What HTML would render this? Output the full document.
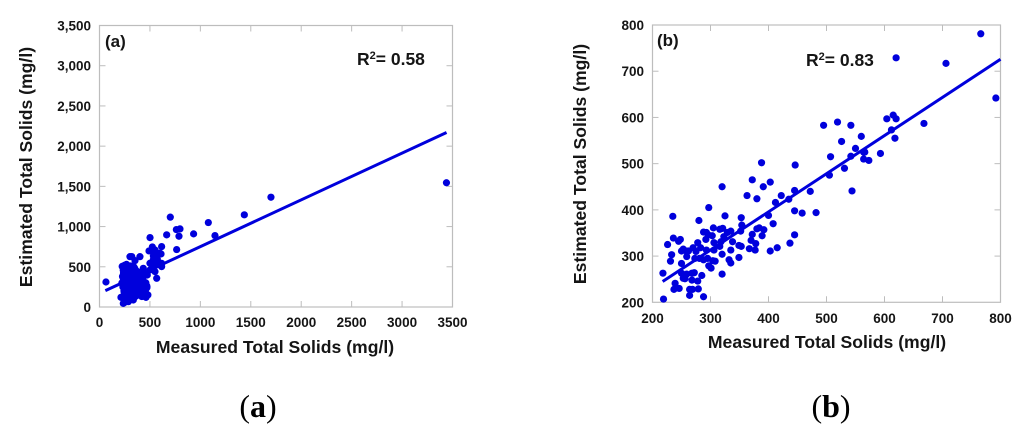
<!DOCTYPE html>
<html lang="en">
<head>
<meta charset="utf-8">
<title>Estimated vs Measured Total Solids</title>
<style>
html,body{margin:0;padding:0;background:#fff;width:1024px;height:435px;overflow:hidden}
svg{display:block;font-family:"Liberation Sans",Arial,sans-serif}
text{font-weight:bold;fill:#151515}
</style>
</head>
<body>
<svg id="figure" width="1024" height="435" viewBox="0 0 1024 435" xmlns="http://www.w3.org/2000/svg">
  <g id="panel-a"></g>
  <g id="panel-b"></g>
  <text x="258" y="417" text-anchor="middle" style="font-family:'Liberation Serif',serif;font-size:32px;fill:#000"><tspan style="font-weight:normal">(</tspan>a<tspan style="font-weight:normal">)</tspan></text>
  <text x="831" y="417" text-anchor="middle" style="font-family:'Liberation Serif',serif;font-size:32px;fill:#000"><tspan style="font-weight:normal">(</tspan>b<tspan style="font-weight:normal">)</tspan></text>
</svg>
<script>
const aMeasured = [64,702,1436,1079,933,1145,762,798,788,666,501,765,616,524,491,567,610,302,320,401,352,567,550,616,573,534,500,534,567,600,434,474,253,213,451,1700,3440,
  225,232,238,245,250,255,258,262,265,268,270,272,275,278,280,283,285,288,290,292,295,298,300,303,305,308,310,312,315,318,320,323,325,328,330,333,335,338,340,345,350,355,360,365,370,375,380,385,390,395,400,410,420,430,440,450,460,470,480,240,260,275,300,320,345,370,395,425,250,280,310,340,375,410,455,235,270,295,330,360,440,
  222,228,235,242,250,262,270,280,292,305,318,330,345,358,372,385,398,412,425,440,455,466,300,315,340,360,380,400,420,350,330,310,290,275,260,255,250,245,240,470,430,405,
  517,550,600,533,616,500,550,236,286,335,434,461];
const aEstimated = [311,1117,1146,1050,909,888,963,971,880,897,863,714,751,747,697,677,660,626,627,626,577,357,440,502,594,635,544,523,523,544,481,398,60,120,137,1365,1545,
  505,250,420,180,520,310,470,130,360,530,210,440,90,300,490,170,400,250,110,470,340,195,510,280,150,420,230,360,480,130,300,200,445,260,390,160,340,230,500,285,190,410,135,350,250,440,180,310,220,390,150,275,340,210,420,165,300,240,150,330,470,260,410,190,350,145,290,230,180,380,120,320,440,240,200,360,150,400,280,170,410,
  300,380,460,200,250,330,410,490,360,440,280,200,350,420,270,190,320,400,240,310,280,150,120,160,110,140,230,170,130,480,470,510,220,150,100,440,380,150,340,260,350,270,
  709,709,668,585,543,460,523,45,66,87,170,120];

const bMeasured = [219,218,231,233,226,236,245,248,235,280,297,320,372,403,391,363,380,422,412,435,445,472,505,445,458,482,400,408,353,325,305,316,321,288,293,296,303,292,354,352,335,329,323,380,384,392,372,389,370,378,445,437,415,403,377,367,353,349,338,318,306,316,278,270,283,275,253,250,258,262,259,293,306,335,320,273,281,288,295,304,308,332,335,349,250,297,301,285,320,250,259,268,272,253,256,268,278,239,237,246,264,269,279,264,288,
  766,620,706,792,495,519,542,604,615,620,668,612,560,618,526,550,507,542,564,566,564,573,593,531,446,388,544];
const bEstimated = [207,263,289,303,325,339,332,336,386,377,405,450,465,460,450,431,424,431,416,423,442,440,475,398,393,394,388,370,383,387,361,358,360,352,351,346,344,336,367,354,354,351,342,359,361,357,347,344,334,327,346,328,318,311,313,316,321,323,331,331,329,321,329,318,318,310,315,311,311,311,299,313,313,313,304,295,295,292,295,290,289,292,285,297,284,279,274,258,261,263,261,263,264,252,251,248,246,241,228,230,228,228,229,215,212,
  781,729,717,642,583,590,583,597,605,597,587,573,559,555,548,533,515,516,525,525,510,507,522,490,497,502,441];

const aXTicks = [0,500,1000,1500,2000,2500,3000,3500];
const aYTicks = [0,500,1000,1500,2000,2500,3000,3500];
const aXLabels = ["0","500","1000","1500","2000","2500","3000","3500"];
const aYLabels = ["0","500","1,000","1,500","2,000","2,500","3,000","3,500"];
const aFitX = [58,3441];
const aFitY = [203,2170];

const bXTicks = [200,300,400,500,600,700,800];
const bYTicks = [200,300,400,500,600,700,800];
const bXLabels = ["200","300","400","500","600","700","800"];
const bYLabels = ["200","300","400","500","600","700","800"];
const bFitX = [217.5,800];
const bFitY = [245,726];

const NS = "http://www.w3.org/2000/svg";

function make(parent, tag, attrs, text) {
  const el = document.createElementNS(NS, tag);
  for (const k in attrs) el.setAttribute(k, attrs[k]);
  if (text !== undefined) el.textContent = text;
  parent.appendChild(el);
  return el;
}

function drawPanel(id, cfg) {
  const g = document.getElementById(id);
  const sx = v => cfg.left + (v - cfg.xMin) / (cfg.xMax - cfg.xMin) * (cfg.right - cfg.left);
  const sy = v => cfg.bottom - (v - cfg.yMin) / (cfg.yMax - cfg.yMin) * (cfg.bottom - cfg.top);

  const frame = make(g, "rect", {x: cfg.left, y: cfg.top, width: cfg.right - cfg.left, height: cfg.bottom - cfg.top, fill: "none", stroke: "#bdbdbd", "stroke-width": 1.2});
  
  

  cfg.xTicks.forEach((t, i) => {
    const x = sx(t);
    if (i > 0 && i < cfg.xTicks.length - 1) {
      const b = make(g, "line", {x1: x, x2: x, y1: cfg.bottom, y2: cfg.bottom - 6, stroke: "#bdbdbd", "stroke-width": 1});
      
      
      const tp = make(g, "line", {x1: x, x2: x, y1: cfg.top, y2: cfg.top + 6, stroke: "#bdbdbd", "stroke-width": 1});
      
      
    }
    const lab = make(g, "text", {x: x, y: cfg.xLabelY, "text-anchor": "middle", "font-size": 13.5}, cfg.xLabels[i]);
    
    
  });

  cfg.yTicks.forEach((t, i) => {
    const y = sy(t);
    if (i > 0 && i < cfg.yTicks.length - 1) {
      const l = make(g, "line", {x1: cfg.left, x2: cfg.left + 6, y1: y, y2: y, stroke: "#bdbdbd", "stroke-width": 1});
      
      
      const r = make(g, "line", {x1: cfg.right, x2: cfg.right - 6, y1: y, y2: y, stroke: "#bdbdbd", "stroke-width": 1});
      
      
    }
    const lab = make(g, "text", {x: cfg.yLabelX, y: y + 5, "text-anchor": "end", "font-size": 13.5}, cfg.yLabels[i]);
    
    
  });

  cfg.xs.forEach((v, i) => {
    const c = make(g, "circle", {cx: sx(v), cy: sy(cfg.ys[i]), r: 3.6, fill: "#0000dc"});
    
    
  });

  const fit = make(g, "line", {x1: sx(cfg.fitX[0]), y1: sy(cfg.fitY[0]), x2: sx(cfg.fitX[1]), y2: sy(cfg.fitY[1]), stroke: "#0000dc", "stroke-width": 3});
  
  

  const xt = make(g, "text", {x: cfg.xTitleX, y: cfg.xTitleY, "text-anchor": "middle", "font-size": 17.6}, "Measured Total Solids (mg/l)");
  
  

  const yt = make(g, "text", {x: 0, y: 0, "text-anchor": "middle", "font-size": 17.6, transform: "translate(" + cfg.yTitleX + "," + cfg.yTitleY + ") rotate(-90)"}, "Estimated Total Solids (mg/l)");
  
  

  const tag = make(g, "text", {x: cfg.tagX, y: cfg.tagY, "font-size": 17}, cfg.tag);
  
  

  const r2 = make(g, "text", {x: cfg.r2X, y: cfg.r2Y, "font-size": 17.5});
  
  
  make(r2, "tspan", {}, "R");
  make(r2, "tspan", {"font-size": 11, dy: -6}, "2");
  make(r2, "tspan", {dy: 6}, "= " + cfg.r2);
}

drawPanel("panel-a", {
  left: 99.5, right: 452.5, top: 25.5, bottom: 307,
  xMin: 0, xMax: 3500, yMin: 0, yMax: 3500,
  xs: aMeasured, ys: aEstimated, fitX: aFitX, fitY: aFitY,
  xTicks: aXTicks, yTicks: aYTicks, xLabels: aXLabels, yLabels: aYLabels,
  xLabelY: 327, yLabelX: 91,
  xTitleX: 275, xTitleY: 353, yTitleX: 32, yTitleY: 167,
  tag: "(a)", tagX: 105, tagY: 47, r2: "0.58", r2X: 357, r2Y: 65
});

drawPanel("panel-b", {
  left: 652.5, right: 1000.5, top: 25, bottom: 302.3,
  xMin: 200, xMax: 800, yMin: 200, yMax: 800,
  xs: bMeasured, ys: bEstimated, fitX: bFitX, fitY: bFitY,
  xTicks: bXTicks, yTicks: bYTicks, xLabels: bXLabels, yLabels: bYLabels,
  xLabelY: 323, yLabelX: 644,
  xTitleX: 827, xTitleY: 348, yTitleX: 586, yTitleY: 164,
  tag: "(b)", tagX: 657, tagY: 46, r2: "0.83", r2X: 806, r2Y: 66
});
</script>
</body>
</html>
